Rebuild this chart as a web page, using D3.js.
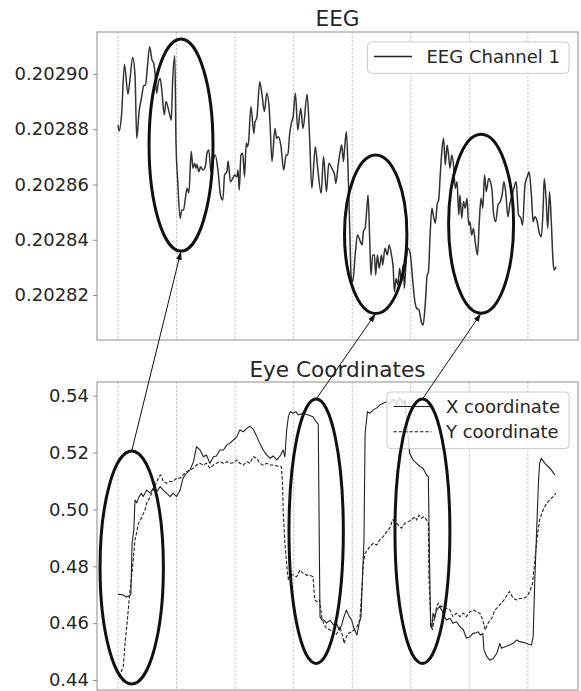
<!DOCTYPE html>
<html><head><meta charset="utf-8">
<script src="https://cdn.jsdelivr.net/npm/d3@7"></script>
<style>
body{margin:0;background:#fff}
svg{display:block}
text{font-family:"DejaVu Sans",sans-serif;fill:#262626}
</style>
</head><body>
<svg id="chart" width="581" height="691"></svg>
<script>
// ---------------- data ----------------
const titles = ["EEG", "Eye Coordinates"];
const eegLegend = ["EEG Channel 1"];
const eyeLegend = ["X coordinate", "Y coordinate"];
const xGridValues = [0, 100, 200, 300, 400, 500, 600, 700];
const eegTicks = [0.20282, 0.20284, 0.20286, 0.20288, 0.20290];
const eyeTicks = [0.44, 0.46, 0.48, 0.50, 0.52, 0.54];

const eegSeries = [[0,0.2028815],[2,0.2028794],[6,0.2028852],[11,0.2029035],[17,0.2028927],[20,0.2028972],[25,0.2029060],[29,0.2028996],[32,0.2028767],[36,0.2028864],[40,0.2028912],[44,0.2028958],[47,0.2028960],[50,0.2029021],[54,0.2029099],[58,0.2029051],[61,0.2029039],[64,0.2028984],[66,0.2028930],[69,0.2028972],[72,0.2028984],[75,0.2028936],[79,0.2028852],[82,0.2028900],[87,0.2028864],[91,0.2028833],[93,0.2028960],[97,0.2029066],[99,0.2028755],[102,0.2028610],[106,0.2028478],[109,0.2028508],[112,0.2028508],[115,0.2028550],[118,0.2028586],[121,0.2028569],[125,0.2028719],[128,0.2028659],[131,0.2028677],[133,0.2028659],[135,0.2028671],[138,0.2028646],[141,0.2028664],[145,0.2028652],[149,0.2028664],[152,0.2028713],[155,0.2028725],[159,0.2028641],[162,0.2028683],[166,0.2028707],[171,0.2028646],[175,0.2028562],[179,0.2028544],[182,0.2028634],[186,0.2028646],[188,0.2028685],[192,0.2028610],[196,0.2028622],[199,0.2028634],[203,0.2028628],[205,0.2028652],[207,0.2028580],[210,0.2028707],[213,0.2028713],[216,0.2028628],[219,0.2028749],[221,0.2028737],[223,0.2028755],[227,0.2028882],[232,0.2028785],[234,0.2028827],[237,0.2028840],[242,0.2028972],[246,0.2028924],[250,0.2028864],[254,0.2028930],[258,0.2028882],[260,0.2028803],[263,0.2028683],[268,0.2028803],[271,0.2028767],[274,0.2028773],[278,0.2028743],[283,0.2028652],[287,0.2028707],[290,0.2028707],[293,0.2028779],[296,0.2028822],[299,0.2028845],[303,0.2028930],[307,0.2028797],[312,0.2028876],[316,0.2028803],[323,0.2028927],[327,0.2028779],[331,0.2028586],[337,0.2028737],[341,0.2028659],[347,0.2028568],[351,0.2028701],[356,0.2028574],[360,0.2028677],[365,0.2028659],[370,0.2028634],[372,0.2028604],[376,0.2028671],[380,0.2028725],[382,0.2028743],[385,0.2028683],[387,0.2028732],[390,0.2028791],[393,0.2028646],[396,0.2028417],[398,0.2028272],[401,0.2028248],[405,0.2028345],[409,0.2028417],[414,0.2028393],[417,0.2028381],[419,0.2028429],[422,0.2028441],[425,0.2028514],[427,0.2028562],[430,0.2028393],[432,0.2028272],[435,0.2028345],[438,0.2028345],[440,0.2028272],[443,0.2028345],[446,0.2028297],[450,0.2028345],[452,0.2028309],[456,0.2028369],[460,0.2028345],[463,0.2028381],[467,0.2028345],[470,0.2028297],[472,0.2028212],[475,0.2028260],[478,0.2028236],[481,0.2028297],[484,0.2028248],[487,0.2028309],[489,0.2028224],[492,0.2028321],[495,0.2028369],[499,0.2028351],[503,0.2028260],[507,0.2028176],[510,0.2028152],[514,0.2028146],[518,0.2028103],[521,0.2028091],[525,0.2028176],[528,0.2028272],[530,0.2028280],[533,0.2028417],[536,0.2028514],[539,0.2028483],[542,0.2028460],[545,0.2028526],[548,0.2028550],[550,0.2028622],[553,0.2028719],[556,0.2028767],[559,0.2028671],[562,0.2028743],[565,0.2028695],[567,0.2028659],[570,0.2028707],[573,0.2028671],[576,0.2028586],[579,0.2028610],[582,0.2028490],[584,0.2028562],[587,0.2028478],[590,0.2028538],[593,0.2028514],[596,0.2028550],[599,0.2028453],[601,0.2028465],[604,0.2028417],[607,0.2028441],[610,0.2028393],[614,0.2028345],[617,0.2028465],[620,0.2028550],[623,0.2028514],[626,0.2028634],[629,0.2028574],[633,0.2028622],[636,0.2028610],[639,0.2028574],[641,0.2028502],[645,0.2028465],[649,0.2028526],[653,0.2028538],[656,0.2028562],[659,0.2028610],[662,0.2028574],[666,0.2028483],[669,0.2028526],[673,0.2028562],[676,0.2028586],[680,0.2028610],[684,0.2028490],[688,0.2028478],[691,0.2028453],[695,0.2028598],[700,0.2028634],[702,0.2028646],[706,0.2028562],[709,0.2028465],[712,0.2028483],[716,0.2028465],[719,0.2028429],[723,0.2028411],[726,0.2028514],[728,0.2028622],[731,0.2028550],[734,0.2028441],[737,0.2028574],[740,0.2028465],[743,0.2028321],[745,0.2028290],[748,0.2028302]];

const eyeX = [[0,0.4702],[9,0.4699],[14,0.4692],[19,0.4696],[22,0.4702],[24,0.4882],[27,0.4928],[29,0.5033],[32,0.5023],[36,0.5045],[40,0.5057],[43,0.5045],[49,0.5068],[55,0.5057],[60,0.5074],[66,0.5062],[72,0.5080],[77,0.5068],[83,0.5057],[89,0.5045],[94,0.5057],[100,0.5045],[106,0.5068],[111,0.5110],[117,0.5127],[123,0.5139],[129,0.5168],[134,0.5221],[140,0.5209],[146,0.5185],[151,0.5191],[157,0.5162],[163,0.5185],[168,0.5188],[174,0.5209],[180,0.5209],[186,0.5227],[191,0.5233],[197,0.5244],[203,0.5256],[208,0.5279],[214,0.5273],[220,0.5285],[225,0.5293],[231,0.5282],[237,0.5256],[242,0.5233],[248,0.5209],[254,0.5191],[260,0.5180],[265,0.5188],[271,0.5174],[277,0.5188],[279,0.5197],[282,0.5209],[285,0.5185],[288,0.5279],[291,0.5326],[294,0.5344],[299,0.5338],[304,0.5343],[308,0.5332],[316,0.5338],[325,0.5332],[333,0.5326],[338,0.5309],[342,0.5300],[344,0.4822],[345,0.4623],[348,0.4611],[352,0.4611],[356,0.4600],[362,0.4611],[368,0.4594],[373,0.4600],[378,0.4576],[382,0.4594],[386,0.4623],[390,0.4646],[395,0.4623],[399,0.4611],[403,0.4582],[408,0.4558],[412,0.4600],[415,0.4623],[418,0.4787],[420,0.4881],[422,0.5268],[426,0.5344],[430,0.5338],[436,0.5350],[442,0.5357],[447,0.5367],[453,0.5373],[459,0.5379],[464,0.5371],[470,0.5388],[476,0.5371],[481,0.5392],[487,0.5371],[490,0.5385],[493,0.5315],[498,0.5197],[504,0.5174],[510,0.5162],[516,0.5150],[521,0.5145],[527,0.5121],[530,0.5115],[532,0.4822],[534,0.4588],[536,0.4582],[538,0.4635],[541,0.4618],[544,0.4646],[549,0.4658],[553,0.4646],[557,0.4623],[561,0.4611],[567,0.4617],[572,0.4600],[578,0.4605],[584,0.4588],[590,0.4576],[595,0.4547],[601,0.4552],[606,0.4564],[610,0.4565],[615,0.4570],[619,0.4558],[623,0.4564],[625,0.4506],[630,0.4482],[635,0.4470],[641,0.4476],[647,0.4494],[652,0.4529],[655,0.4512],[661,0.4517],[669,0.4523],[675,0.4529],[681,0.4541],[686,0.4535],[695,0.4531],[700,0.4527],[706,0.4523],[709,0.4552],[712,0.4763],[715,0.4928],[718,0.5092],[720,0.5162],[723,0.5180],[729,0.5162],[735,0.5150],[740,0.5139],[746,0.5121]];

const eyeY = [[1,0.4412],[3,0.4418],[9,0.4447],[12,0.4529],[16,0.4611],[20,0.4705],[25,0.4799],[29,0.4893],[35,0.4951],[40,0.4969],[46,0.4998],[49,0.5022],[55,0.5045],[60,0.5068],[66,0.5098],[72,0.5121],[75,0.5115],[77,0.5098],[83,0.5092],[89,0.5098],[94,0.5098],[100,0.5110],[106,0.5110],[111,0.5121],[117,0.5133],[123,0.5139],[129,0.5145],[134,0.5156],[140,0.5162],[146,0.5156],[151,0.5162],[157,0.5145],[163,0.5156],[168,0.5162],[174,0.5168],[180,0.5162],[186,0.5168],[191,0.5162],[197,0.5164],[203,0.5174],[208,0.5162],[214,0.5156],[220,0.5168],[225,0.5162],[231,0.5185],[237,0.5180],[242,0.5162],[248,0.5156],[254,0.5162],[260,0.5156],[265,0.5156],[271,0.5153],[277,0.5150],[279,0.5150],[281,0.5092],[282,0.4998],[285,0.4881],[289,0.4787],[291,0.4752],[294,0.4775],[299,0.4769],[305,0.4763],[311,0.4787],[316,0.4775],[322,0.4769],[328,0.4769],[333,0.4763],[336,0.4682],[339,0.4676],[344,0.4682],[348,0.4623],[351,0.4600],[356,0.4582],[362,0.4576],[368,0.4570],[372,0.4558],[376,0.4570],[379,0.4588],[384,0.4552],[386,0.4529],[389,0.4547],[393,0.4564],[399,0.4570],[403,0.4576],[408,0.4588],[413,0.4611],[416,0.4705],[419,0.4811],[422,0.4846],[426,0.4857],[430,0.4869],[436,0.4881],[442,0.4875],[447,0.4893],[453,0.4904],[459,0.4922],[464,0.4934],[469,0.4963],[473,0.4957],[479,0.4945],[484,0.4934],[490,0.4951],[496,0.4957],[501,0.4963],[507,0.4974],[510,0.4963],[514,0.4980],[518,0.4969],[522,0.4974],[527,0.4963],[530,0.4951],[531,0.4763],[534,0.4611],[537,0.4576],[541,0.4623],[544,0.4658],[547,0.4670],[551,0.4658],[555,0.4658],[561,0.4652],[567,0.4646],[572,0.4623],[578,0.4635],[584,0.4623],[590,0.4635],[595,0.4623],[601,0.4640],[607,0.4646],[612,0.4640],[618,0.4635],[623,0.4611],[627,0.4576],[632,0.4600],[638,0.4617],[644,0.4646],[649,0.4658],[655,0.4670],[661,0.4687],[666,0.4705],[669,0.4711],[675,0.4687],[681,0.4682],[686,0.4687],[692,0.4687],[698,0.4693],[703,0.4711],[708,0.4740],[712,0.4822],[716,0.4904],[720,0.4963],[726,0.4998],[732,0.5022],[737,0.5033],[743,0.5045],[748,0.5057]];

// highlight ellipses (data units: centre, half-width, half-height)
const eegEllipses = [[107.6,0.2028743,54.6,0.0000384],[440.1,0.2028420,53.3,0.0000287],[620.1,0.2028458,55.5,0.0000324]];
const eyeEllipses = [[23.4,0.4796,54.1,0.04097],[338.4,0.4923,46.4,0.04649],[519.9,0.4923,46.9,0.04649]];

// ---------------- layout ----------------
const svg = d3.select("#chart");
const L = 97, R = 578;
const panels = [
  {top: 32, bottom: 340, yDomain: [0.2028037, 0.2029152], ticks: eegTicks, fmt: d3.format(".5f"), title: titles[0], titleY: 26},
  {top: 382, bottom: 690, yDomain: [0.4365, 0.5448], ticks: eyeTicks, fmt: d3.format(".2f"), title: titles[1], titleY: 376.5}
];
const x = d3.scaleLinear().domain([-35.9, 785.6]).range([L, R]);
panels.forEach(p => { p.y = d3.scaleLinear().domain(p.yDomain).range([p.bottom, p.top]); });

const spineColor = "#8c8c8c";
const gridColor = "#b8b8b8";

svg.append("defs").append("marker")
  .attr("id", "ah").attr("markerUnits", "userSpaceOnUse")
  .attr("viewBox", "0 -4 10 8").attr("refX", 10).attr("refY", 0)
  .attr("markerWidth", 9).attr("markerHeight", 7).attr("orient", "auto")
  .append("path").attr("d", "M0,-3.2L10,0L0,3.2Z").attr("fill", "#111");

panels.forEach((p, i) => {
  const g = svg.append("g");
  const clipId = "clip" + i;
  svg.select("defs").append("clipPath").attr("id", clipId)
    .append("rect").attr("x", L).attr("y", p.top).attr("width", R - L).attr("height", p.bottom - p.top);
  // grid
  g.selectAll(".grid").data(xGridValues).join("line")
    .attr("x1", d => x(d)).attr("x2", d => x(d))
    .attr("y1", p.top).attr("y2", p.bottom)
    .attr("stroke", gridColor).attr("stroke-width", 0.8).attr("stroke-dasharray", "2.5,1.5");
  p.g = g; p.clip = clipId;
  // y axis
  const ax = d3.axisLeft(p.y).tickValues(p.ticks).tickFormat(p.fmt).tickSize(4).tickPadding(4);
  const axg = svg.append("g").attr("transform", `translate(${L},0)`).call(ax);
  axg.select(".domain").remove();
  axg.selectAll(".tick line").attr("stroke", spineColor).attr("stroke-width", 1);
  axg.selectAll(".tick text").style("font-size", "18px").style("font-family", '"DejaVu Sans",sans-serif').attr("fill", "#262626");
  // title
  svg.append("text").attr("x", (L + R) / 2).attr("y", p.titleY).attr("text-anchor", "middle")
    .style("font-size", "21.6px").text(p.title);
});

// lines
const mkLine = (p) => d3.line().x(d => x(d[0])).y(d => p.y(d[1]));
panels[0].g.append("path").datum(eegSeries)
  .attr("clip-path", "url(#clip0)")
  .attr("d", mkLine(panels[0]).curve(d3.curveMonotoneX))
  .attr("fill", "none").attr("stroke", "#333").attr("stroke-width", 1.5).attr("stroke-linejoin", "round");
panels[1].g.append("path").datum(eyeX)
  .attr("clip-path", "url(#clip1)")
  .attr("d", mkLine(panels[1]))
  .attr("fill", "none").attr("stroke", "#222").attr("stroke-width", 1.1).attr("stroke-linejoin", "round");
panels[1].g.append("path").datum(eyeY)
  .attr("clip-path", "url(#clip1)")
  .attr("d", mkLine(panels[1]))
  .attr("fill", "none").attr("stroke", "#222").attr("stroke-width", 1.1).attr("stroke-dasharray", "3.5,1.8");

// spines
panels.forEach(p => {
  svg.append("rect").attr("x", L).attr("y", p.top).attr("width", R - L).attr("height", p.bottom - p.top)
    .attr("fill", "none").attr("stroke", spineColor).attr("stroke-width", 1);
});

// legends
function legend(p, items, dashes) {
  const g = svg.append("g");
  const tmp = g.append("text").style("font-size", "18px").text(items.reduce((a, b) => a.length > b.length ? a : b));
  const tw = d3.max(items, s => { tmp.text(s); return tmp.node().getComputedTextLength(); });
  tmp.remove();
  const w = 59 + tw + 9, h = 14.5 + (items.length - 1) * 25.3 + 16.8;
  const bx = R - 9 - w, by = p.top + 10;
  g.append("rect").attr("x", bx).attr("y", by).attr("width", w).attr("height", h).attr("rx", 4)
    .attr("fill", "#fff").attr("fill-opacity", 0.8).attr("stroke", "#cccccc").attr("stroke-width", 1);
  items.forEach((s, i) => {
    const cy = by + 14.5 + i * 25.3;
    g.append("line").attr("x1", bx + 6.5).attr("x2", bx + 44.5).attr("y1", cy).attr("y2", cy)
      .attr("stroke", "#222").attr("stroke-width", i === 0 && p === panels[0] ? 1.5 : 1.1)
      .attr("stroke-dasharray", dashes[i]);
    g.append("text").attr("x", bx + 59).attr("y", cy + 6.5).style("font-size", "18px").text(s);
  });
}
legend(panels[0], eegLegend, [null]);
legend(panels[1], eyeLegend, [null, "3.5,1.8"]);

// ellipses
function drawEllipses(p, arr) {
  svg.append("g").selectAll("ellipse").data(arr).join("ellipse")
    .attr("cx", d => x(d[0])).attr("cy", d => p.y(d[1]))
    .attr("rx", d => x(d[0] + d[2]) - x(d[0]))
    .attr("ry", d => p.y(d[1]) - p.y(d[1] + d[3]))
    .attr("fill", "none").attr("stroke", "#111").attr("stroke-width", 3);
}
drawEllipses(panels[0], eegEllipses);
drawEllipses(panels[1], eyeEllipses);

// connecting arrows: top of each eye ellipse -> bottom of matching EEG ellipse
svg.append("g").selectAll("line").data(d3.range(eyeEllipses.length)).join("line")
  .attr("x1", i => x(eyeEllipses[i][0])).attr("y1", i => panels[1].y(eyeEllipses[i][1] + eyeEllipses[i][3]))
  .attr("x2", i => x(eegEllipses[i][0])).attr("y2", i => panels[0].y(eegEllipses[i][1] - eegEllipses[i][3]))
  .attr("stroke", "#111").attr("stroke-width", 1).attr("marker-end", "url(#ah)");
</script>
</body></html>
